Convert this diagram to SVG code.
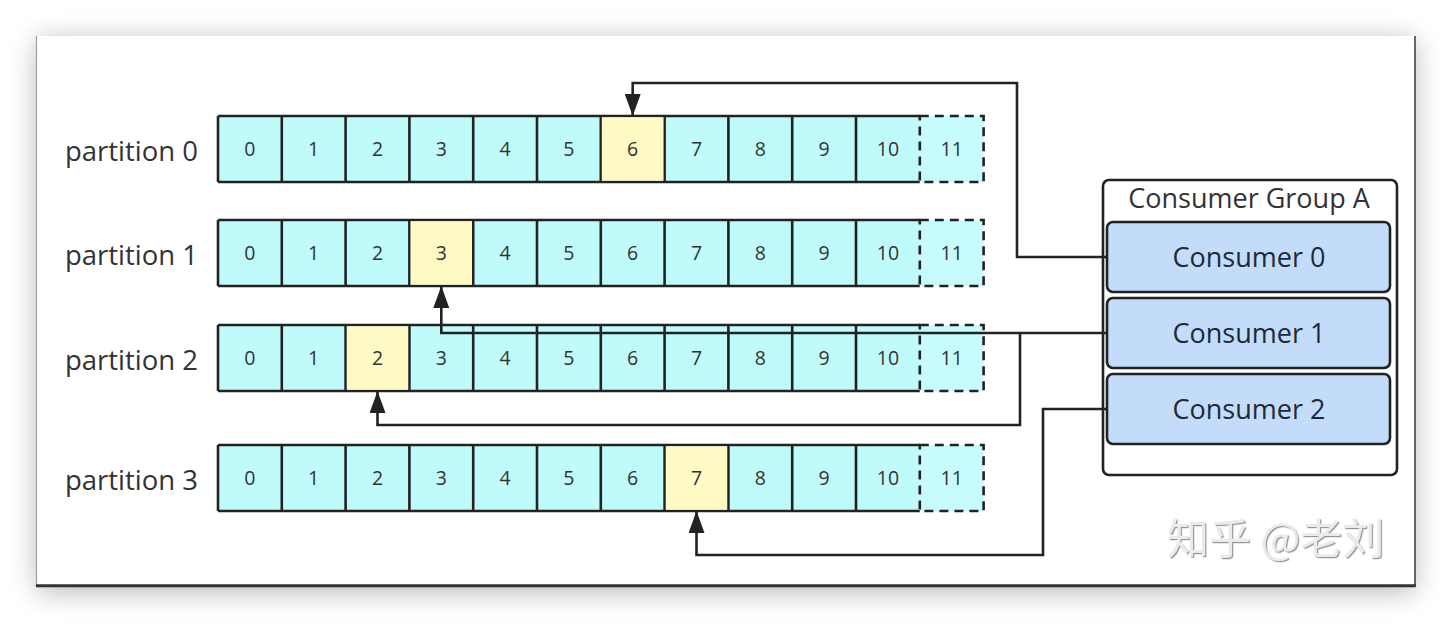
<svg xmlns="http://www.w3.org/2000/svg" width="1452" height="624" viewBox="0 0 1452 624">
<defs>
<style>
.cell{fill:#c0fbfb;stroke:none}
.hl{fill:#fffac4;stroke:none}
.ol{fill:none;stroke:#222;stroke-width:2.6}
.dash{fill:#c6fcfc;stroke:#222;stroke-width:2.6;stroke-dasharray:9 6}
.num{font-family:"Open Sans","Liberation Sans",sans-serif;font-size:19.5px;fill:#333;text-anchor:middle}
.lbl{font-family:"Open Sans","Liberation Sans",sans-serif;font-size:27.5px;fill:#333;text-anchor:end}
.ctext{font-family:"Open Sans","Liberation Sans",sans-serif;font-size:27px;fill:#1e2a38;text-anchor:middle}
.cons{fill:#c2dcf9;stroke:#222;stroke-width:2.6}
.conn{fill:none;stroke:#222;stroke-width:2.6;marker-end:url(#arr)}
</style>
<marker id="arr" viewBox="0 0 22 16" refX="21" refY="8" markerWidth="22" markerHeight="16" markerUnits="userSpaceOnUse" orient="auto">
<path d="M0,0 L22,8 L0,16 Z" fill="#222"/>
</marker>
<filter id="shadow" x="-10%" y="-20%" width="120%" height="140%">
<feGaussianBlur stdDeviation="14"/>
</filter>
<filter id="emboss" x="-10%" y="-20%" width="120%" height="140%">
<feDropShadow dx="1.2" dy="1.2" stdDeviation="0.6" flood-color="#8a8a8a" flood-opacity="0.9"/>
</filter>
<g id="rowtpl">
<rect class="cell" x="218" y="0" width="701.8" height="66"/>
<path class="ol" d="M218,0 H919.8 M218,66 H919.8 M218,0 V66 M281.8,0 V66 M345.6,0 V66 M409.4,0 V66 M473.2,0 V66 M537,0 V66 M600.8,0 V66 M664.6,0 V66 M728.4,0 V66 M792.2,0 V66 M856,0 V66"/>
<rect class="dash" x="919.8" y="0" width="63.8" height="66"/>
</g>
</defs>

<rect width="1452" height="624" fill="#ffffff"/>
<rect x="37" y="40" width="1378" height="552" fill="#000" opacity="0.28" filter="url(#shadow)"/>
<rect id="frame" x="36.5" y="36" width="1378.5" height="549" fill="#ffffff"/>
<line x1="36.5" y1="36" x2="36.5" y2="586" stroke="#a0a0a0" stroke-width="1.2"/>
<line x1="1415" y1="36" x2="1415" y2="586" stroke="#444" stroke-width="1.6"/>
<line x1="36" y1="585.8" x2="1415.8" y2="585.8" stroke="#333" stroke-width="3"/>

<g id="partition0">
<text class="lbl" x="198" y="161">partition 0</text>
<g transform="translate(0,116)">
<use href="#rowtpl"/>
<rect class="hl" x="601.8" y="1.3" width="61.6" height="63.4"/>
<text class="num" y="40"><tspan x="249.9">0</tspan><tspan x="313.7">1</tspan><tspan x="377.5">2</tspan><tspan x="441.3">3</tspan><tspan x="505.1">4</tspan><tspan x="568.9">5</tspan><tspan x="632.7">6</tspan><tspan x="696.5">7</tspan><tspan x="760.3">8</tspan><tspan x="824.1">9</tspan><tspan x="887.9">10</tspan><tspan x="951.7">11</tspan></text>
</g>
</g>

<g id="partition1">
<text class="lbl" x="198" y="265">partition 1</text>
<g transform="translate(0,220)">
<use href="#rowtpl"/>
<rect class="hl" x="410.6" y="1.3" width="61.4" height="63.4"/>
<text class="num" y="40"><tspan x="249.9">0</tspan><tspan x="313.7">1</tspan><tspan x="377.5">2</tspan><tspan x="441.3">3</tspan><tspan x="505.1">4</tspan><tspan x="568.9">5</tspan><tspan x="632.7">6</tspan><tspan x="696.5">7</tspan><tspan x="760.3">8</tspan><tspan x="824.1">9</tspan><tspan x="887.9">10</tspan><tspan x="951.7">11</tspan></text>
</g>
</g>

<g id="partition2">
<text class="lbl" x="198" y="370">partition 2</text>
<g transform="translate(0,325)">
<use href="#rowtpl"/>
<rect class="hl" x="346.8" y="1.3" width="61.4" height="63.4"/>
<text class="num" y="40"><tspan x="249.9">0</tspan><tspan x="313.7">1</tspan><tspan x="377.5">2</tspan><tspan x="441.3">3</tspan><tspan x="505.1">4</tspan><tspan x="568.9">5</tspan><tspan x="632.7">6</tspan><tspan x="696.5">7</tspan><tspan x="760.3">8</tspan><tspan x="824.1">9</tspan><tspan x="887.9">10</tspan><tspan x="951.7">11</tspan></text>
</g>
</g>

<g id="partition3">
<text class="lbl" x="198" y="490">partition 3</text>
<g transform="translate(0,445)">
<use href="#rowtpl"/>
<rect class="hl" x="665.8" y="1.3" width="61.4" height="63.4"/>
<text class="num" y="40"><tspan x="249.9">0</tspan><tspan x="313.7">1</tspan><tspan x="377.5">2</tspan><tspan x="441.3">3</tspan><tspan x="505.1">4</tspan><tspan x="568.9">5</tspan><tspan x="632.7">6</tspan><tspan x="696.5">7</tspan><tspan x="760.3">8</tspan><tspan x="824.1">9</tspan><tspan x="887.9">10</tspan><tspan x="951.7">11</tspan></text>
</g>
</g>

<g id="consumer-group-a">
<rect x="1103" y="180" width="294" height="295" rx="6" fill="#ffffff" stroke="#222" stroke-width="2.6"/>
<text class="ctext" x="1249" y="208" style="fill:#333">Consumer Group A</text>
</g>
<g id="consumer0">
<rect class="cons" x="1107" y="222" width="283" height="70" rx="6"/>
<text class="ctext" x="1249" y="267">Consumer 0</text>
</g>
<g id="consumer1">
<rect class="cons" x="1107" y="298" width="283" height="70" rx="6"/>
<text class="ctext" x="1249" y="343">Consumer 1</text>
</g>
<g id="consumer2">
<rect class="cons" x="1107" y="374" width="283" height="70" rx="6"/>
<text class="ctext" x="1249" y="419">Consumer 2</text>
</g>

<g id="connectors">
<path class="conn" d="M1107,257 H1017 V83 H632.7 V115"/>
<path class="conn" d="M1107,333 H441.3 V287"/>
<path class="conn" d="M1020,333 V425 H377.5 V392"/>
<path class="conn" d="M1107,409 H1043 V555 H696.5 V512"/>
</g>

<text x="1167" y="554" font-family="'Noto Sans CJK SC','Noto Sans',sans-serif" font-size="42" fill="#ebebeb" filter="url(#emboss)">知乎 @老刘</text>
</svg>
